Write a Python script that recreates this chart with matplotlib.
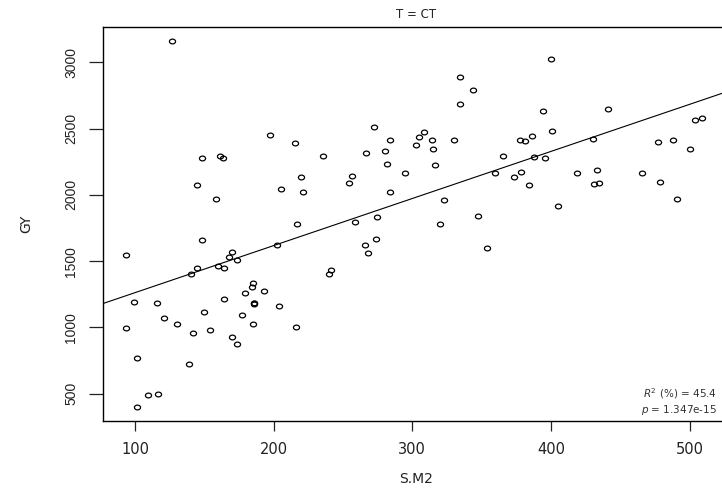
import numpy as np
import matplotlib
matplotlib.use("Agg")
import matplotlib.pyplot as plt
from matplotlib.path import Path

plt.rcParams['font.family'] = ['DejaVu Sans']

# values (S.M2 vs GY, T = CT)
sm2 = [126.6, 197.5, 215.0, 148.5, 161.0, 163.4, 144.6, 205.5, 158.3, 219.6,
       220.9, 216.7, 148.5, 93.1, 170.1, 167.7, 173.7, 202.3, 140.0, 144.6,
       159.7, 164.4, 98.9, 116.0, 184.8, 184.0, 179.2, 193.0, 164.4, 186.0,
       186.0, 186.0, 203.5, 121.0, 130.0, 149.4, 154.3, 141.5, 177.0, 184.8,
       215.8, 93.1, 170.1, 173.7, 101.3, 139.1, 109.0, 116.2, 101.3,
       334.6, 343.5, 334.6, 272.6, 308.2, 304.5, 283.8, 313.9, 329.8, 302.4,
       280.5, 315.2, 266.8, 235.5, 365.4, 281.7, 316.1, 294.4, 359.9, 256.4,
       254.0, 283.8, 322.8, 347.1, 274.5, 258.9, 319.7, 354.1, 273.5, 265.6,
       267.7, 241.3, 240.1,
       400.0, 394.2, 441.4, 401.0, 503.7, 509.2, 377.6, 381.5, 386.6, 430.0,
       477.0, 488.3, 500.0, 387.5, 395.5, 373.6, 378.4, 384.4, 418.8, 433.5,
       431.3, 434.9, 466.0, 478.4, 490.9, 405.0]
gy = [3161, 2452, 2391, 2281, 2296, 2281, 2075, 2042, 1971, 2135,
      2022, 1783, 1662, 1545, 1569, 1534, 1509, 1622, 1406, 1446,
      1466, 1446, 1192, 1182, 1332, 1303, 1260, 1278, 1217, 1182,
      1180, 1184, 1165, 1072, 1029, 1115, 979, 961, 1097, 1029,
      1004, 996, 928, 876, 772, 722, 491, 501, 403,
      2887, 2793, 2683, 2512, 2477, 2434, 2416, 2416, 2416, 2374,
      2331, 2348, 2314, 2296, 2296, 2235, 2228, 2167, 2163, 2143,
      2092, 2022, 1962, 1843, 1836, 1798, 1783, 1602, 1670, 1620,
      1560, 1431, 1406,
      3023, 2630, 2648, 2484, 2563, 2578, 2416, 2406, 2441, 2424,
      2399, 2416, 2348, 2288, 2281, 2135, 2175, 2075, 2167, 2185,
      2082, 2092, 2167, 2100, 1971, 1919]

x_ticks = [100, 200, 300, 400, 500]
y_ticks = [500, 1000, 1500, 2000, 2500, 3000]
r2_text = "45.4"
p_text = "1.347e-15"

x = np.array(sm2)
y = np.array(gy)
slope, intercept = np.polyfit(x, y, 1)

# slightly flattened open circle, like the stretched R output
t = np.linspace(0, 2 * np.pi, 40)
ring = Path(np.column_stack([np.cos(t), 0.78 * np.sin(t)]), closed=True)

fig = plt.figure(figsize=(7.22, 4.92), dpi=100)
ax = fig.add_axes([0.1427, 0.1449, 0.867, 0.7996])

ax.plot(x, y, linestyle='none', marker=ring, markersize=4.4,
        markerfacecolor='none', markeredgecolor='black', markeredgewidth=0.9)
ax.axline((0, intercept), slope=slope, color='black', linewidth=0.8)

ax.set_xlim(76.8, 528.5)
ax.set_ylim(296, 3264)
ax.set_xticks(x_ticks)
ax.set_xticklabels([str(v) for v in x_ticks], fontsize=10.5)
ax.set_yticks(y_ticks)
ax.set_yticklabels([str(v) for v in y_ticks], rotation=90, va='center',
                   family='Liberation Sans', fontsize=10)
ax.tick_params(axis='x', length=7, width=0.9, pad=8, colors='#222222')
ax.tick_params(axis='y', length=10, width=0.9, pad=8, colors='#222222')
for s in ax.spines.values():
    s.set_linewidth(1.0)

ax.set_xlabel("S.M2", fontsize=10, labelpad=11, color='#222222')
ax.set_ylabel("GY", fontsize=10, labelpad=22, color='#222222')
ax.set_title("T = CT", fontsize=8.5, pad=7, color='#222222')

fig.text(0.993, 0.200, r"$R^2$ (%) = " + r2_text, ha='right', va='center',
         fontsize=7.5, color='#333333')
fig.text(0.993, 0.166, r"$p$ = " + p_text, ha='right', va='center',
         fontsize=7.5, color='#333333')

fig.savefig("out.png", dpi=100)
plt.close()
